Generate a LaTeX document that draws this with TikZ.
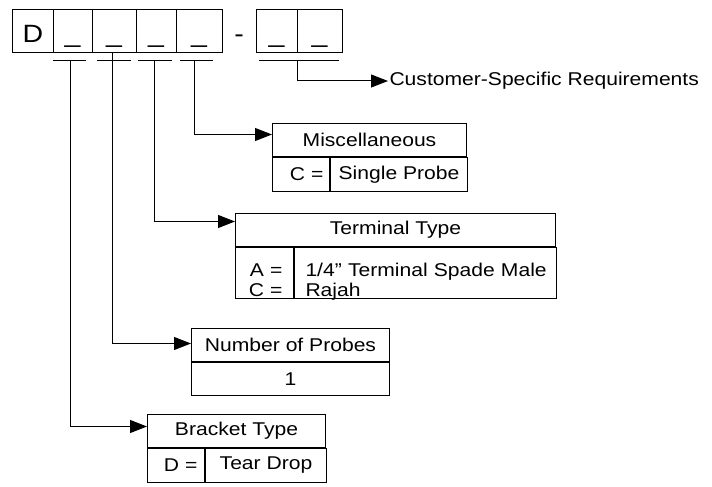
\documentclass[tikz,border=0pt]{standalone}
\usepackage{fontspec}
\setmainfont{Liberation Sans}[FakeStretch=1.14]
\usetikzlibrary{arrows.meta,positioning}

\begin{document}
\begin{tikzpicture}[x=1bp,y=-1bp,line width=1bp,
  font=\fontsize{18.5bp}{20bp}\selectfont,
  digit/.style={draw,inner sep=0pt,minimum height=43bp,text height=22bp,text depth=0pt,
    font=\fontsize{25bp}{25bp}\selectfont},
  cell/.style={draw,inner sep=0pt,anchor=north west},
  pointer/.style={-{Triangle[length=17bp,width=13bp]}}]
\useasboundingbox (0,0) rectangle (712,487);
% part number boxes
\foreach \n/\cx/\w/\t in {c0/33/40/D,c1/72.5/39/\_,c2/114/44/\_,c3/156/40/\_,c4/199/46/\_,d0/276.5/41/\_,d1/319.5/45/\_}
	\node[digit,minimum width=\w bp] (\n) at (\cx,31.5) {\t};
\node[inner sep=0pt,text height=22bp,text depth=0pt,font=\fontsize{25bp}{25bp}\selectfont] (dash) at (239,31.5) {-};
\foreach \a/\b in {53/86,97/131,138/172,180/213,259/339}
	\draw (\a,61) -- (\b,61);
\coordinate (b1) at (70,61);
\coordinate (b2) at (c2.south -| 112,0);
\coordinate (b3) at (154,61);
\coordinate (b4) at (194,61);
\coordinate (b5) at (297,61);
% tables
\node[cell,minimum width=194bp,minimum height=33bp] (misc) at (272,123) {Miscellaneous};
\node[cell,minimum width=57bp,minimum height=34bp,text width=45bp,align=right] (misck) at (misc.south west) {C =};
\node[cell,minimum width=137bp,minimum height=34bp] (miscv) at (misck.north east) {Single Probe};
\node[cell,minimum width=320bp,minimum height=33bp] (term) at (235,213) {Terminal Type};
\node[cell,minimum width=58bp,minimum height=51bp,text width=36bp,align=right,text height=29bp,text depth=22bp] (termk) at (term.south west) {A =\\C =};
\node[cell,minimum width=262bp,minimum height=51bp,text width=240bp,align=left,text height=29bp,text depth=22bp] (termv) at (termk.north east) {\mbox{1/4” Terminal Spade Male}\\Rajah};
\node[cell,minimum width=198bp,minimum height=33bp] (probes) at (191,328) {Number of Probes};
\node[cell,minimum width=198bp,minimum height=33bp] (probesv) at (probes.south west) {1};
\node[cell,minimum width=178bp,minimum height=33bp] (bracket) at (147,414) {Bracket Type};
\node[cell,minimum width=57bp,minimum height=34bp,text width=43bp,align=right] (bracketk) at (bracket.south west) {D =};
\node[cell,minimum width=121bp,minimum height=34bp] (bracketv) at (bracketk.north east) {Tear Drop};
\node[anchor=west,inner sep=1bp] (cust) at (388,81) {Customer-Specific Requirements};
% pointers
\draw[pointer] (b1) |- ([yshift=4.5bp]bracket.west);
\draw[pointer] (b2) |- ([yshift=1.5bp]probes.west);
\draw[pointer] (b3) |- ([yshift=8.5bp]term.west);
\draw[pointer] (b4) |- ([yshift=5.5bp]misc.west);
\draw[pointer] (b5) |- (cust.west);
\end{tikzpicture}
\end{document}
